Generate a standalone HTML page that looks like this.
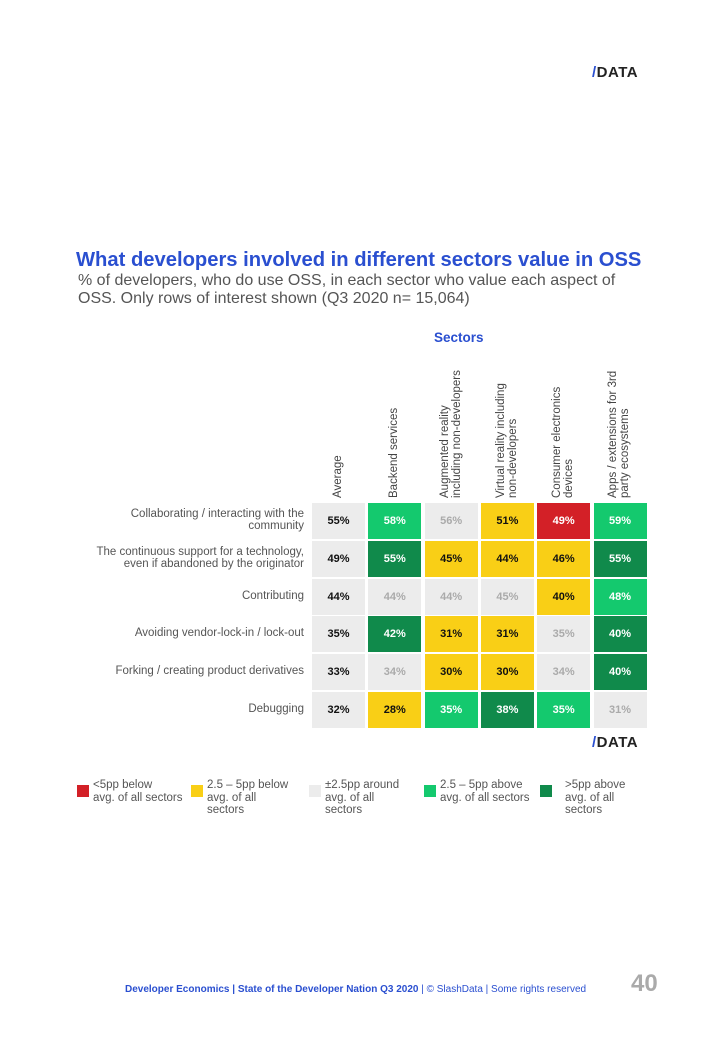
<!DOCTYPE html>
<html><head><meta charset="utf-8"><style>
body{margin:0;width:720px;height:1040px;background:#fff;position:relative;font-family:"Liberation Sans",sans-serif;overflow:hidden}
.abs{position:absolute}
.logo{font-weight:bold;font-size:15px;letter-spacing:0.5px;color:#222}
.logo b{color:#2a4fd0}
#title{left:76px;top:249px;font-size:20.2px;font-weight:bold;color:#2a4fd0;white-space:nowrap}
#sub{left:78px;top:272px;font-size:16px;color:#555;line-height:18px}
.colh{position:absolute;font-size:11.5px;color:#444;line-height:11.5px;transform-origin:0 0;transform:rotate(-90deg);white-space:nowrap}
.rowl{position:absolute;right:416px;font-size:11.5px;color:#555;text-align:right;line-height:12px;white-space:nowrap}
.cell{position:absolute;font-size:11px;font-weight:bold;display:flex;align-items:center;justify-content:center}
.leg{position:absolute;font-size:11.5px;color:#555;line-height:12.5px;white-space:nowrap}
.sw{position:absolute;width:12px;height:12px}
</style></head><body>
<div class="abs logo" style="left:592px;top:64px"><b>/</b>DATA</div>
<div class="abs" id="title">What developers involved in different sectors value in OSS</div>
<div class="abs" id="sub">% of developers, who do use OSS, in each sector who value each aspect of<br>OSS. Only rows of interest shown (Q3 2020 n= 15,064)</div>
<div class="abs" style="left:434px;top:330px;font-size:13.5px;font-weight:bold;color:#2a4fd0">Sectors</div>
<div id="grid"></div>
<div class="abs logo" style="left:592px;top:734px"><b>/</b>DATA</div>
<div id="legend"></div>
<div class="abs" style="left:125px;top:984px;font-size:10px;color:#2a4fd0;white-space:nowrap"><b>Developer Economics | State of the Developer Nation Q3 2020</b> | © SlashData | Some rights reserved</div>
<div class="abs" style="left:631px;top:970px;font-size:24px;font-weight:bold;color:#aaa">40</div>
<script>
const columns=["Average","Backend services","Augmented reality\nincluding non-developers","Virtual reality including\nnon-developers","Consumer electronics\ndevices","Apps / extensions for 3rd\nparty ecosystems"];
const rows=["Collaborating / interacting with the\ncommunity","The continuous support for a technology,\neven if abandoned by the originator","Contributing","Avoiding vendor-lock-in / lock-out","Forking / creating product derivatives","Debugging"];
const r0=[55,58,56,51,49,59];
const r1=[49,55,45,44,46,55];
const r2=[44,44,44,45,40,48];
const r3=[35,42,31,31,35,40];
const r4=[33,34,30,30,34,40];
const r5=[32,28,35,38,35,31];
const values=[r0,r1,r2,r3,r4,r5];
const legendLabels=["<5pp below\navg. of all sectors","2.5 – 5pp below\navg. of all\nsectors","±2.5pp around\navg. of all\nsectors","2.5 – 5pp above\navg. of all sectors",">5pp above\navg. of all\nsectors"];
const COLORS=["#d32027","#f9cf16","#ececec","#14c96e","#108a4b"];
const TXT=["#fff","#111","#aaa","#fff","#fff"];
const x0=312,pitchX=56.3,cw=53,y0=503,pitchY=37.8,ch=36;
const xs=i=>x0+i*pitchX, ys=j=>y0+j*pitchY;
function cat(d){return d<-5?0:d<=-2.5?1:d<2.5?2:d<5?3:4;}
const g=document.getElementById('grid');
columns.forEach((c,i)=>{
  const d=document.createElement('div');d.className='colh';
  
  
  const lines=c.split('\n');
  d.innerHTML=lines.join('<br>');
  d.style.left=(xs(i)+cw/2-lines.length*5.8)+'px';d.style.top='498px';
  g.appendChild(d);
});
rows.forEach((r,j)=>{
  const l=document.createElement('div');l.className='rowl';
  
  
  const lines=r.split('\n');l.innerHTML=lines.join('<br>');
  l.style.top=(ys(j)+(lines.length>1?5:11))+'px';
  g.appendChild(l);
  values[j].forEach((v,i)=>{
    const k=i==0?2:cat(v-values[j][0]);
    const c=document.createElement('div');c.className='cell';
    
    
    c.style.left=xs(i)+'px';c.style.top=ys(j)+'px';c.style.width=cw+'px';c.style.height=ch+'px';
    c.style.background=COLORS[k];c.style.color=i==0?'#111':TXT[k];
    c.textContent=v+'%';g.appendChild(c);
  });
});
const lg=document.getElementById('legend');
const lx=[77,191,309,424,540];
legendLabels.forEach((t,i)=>{
  const s=document.createElement('div');s.className='sw';
  
  
  s.style.left=lx[i]+'px';s.style.top='785px';s.style.background=COLORS[i];lg.appendChild(s);
  const l=document.createElement('div');l.className='leg';
  
  
  l.style.left=(lx[i]+16+(i==4?9:0))+'px';l.style.top='779px';
  l.innerHTML=t.split('\n').join('<br>');lg.appendChild(l);
});
</script>
</body></html>
